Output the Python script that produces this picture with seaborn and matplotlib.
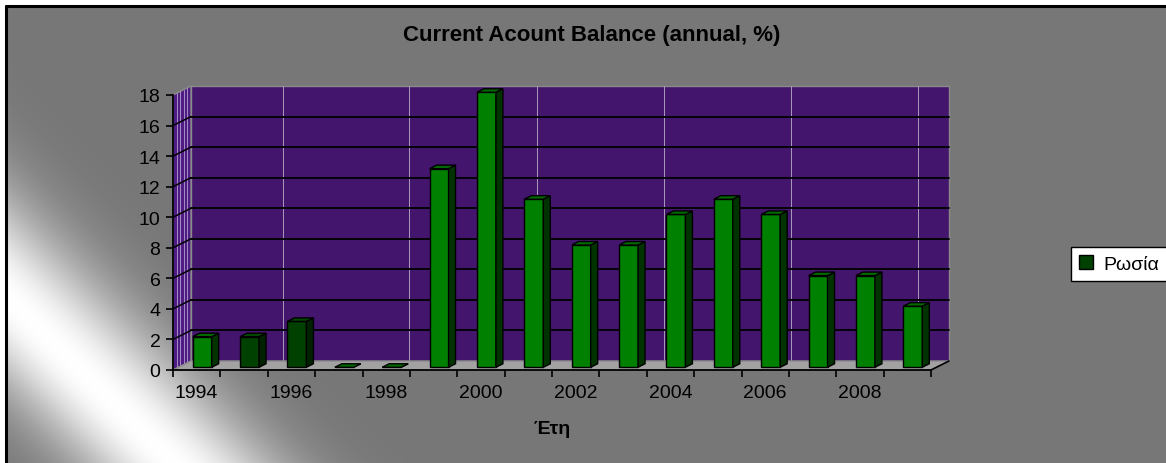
import numpy as np
import pandas as pd
import seaborn as sns
import matplotlib.pyplot as plt
from matplotlib.patches import Polygon, Patch

# data
years = ['1994', '1995', '1996', '1997', '1998', '1999', '2000', '2001',
         '2002', '2003', '2004', '2005', '2006', '2007', '2008', '2009']
balance = [2, 2, 3, 0, 0, 13, 18, 11, 8, 8, 10, 11, 10, 6, 6, 4]
dark_years = ['1995', '1996']
series_name = 'Ρωσία'
title = 'Current Acount Balance (annual, %)'
x_title = 'Έτη'

df = pd.DataFrame({'year': years, 'value': balance})

sns.set_style('white')
plt.rcParams['font.family'] = ['Liberation Sans', 'DejaVu Sans']
plt.rcParams['text.color'] = 'black'
plt.rcParams['axes.labelcolor'] = 'black'
plt.rcParams['xtick.color'] = 'black'
plt.rcParams['ytick.color'] = 'black'

W, H = 1166, 464
fig = plt.figure(figsize=(W / 100, H / 100), dpi=100, facecolor='white')

# background with diagonal light streak
bg = fig.add_axes([6 / W, 0, 1 - 6 / W, 1 - 7 / H])
bg.set_axis_off()
hh, ww = H - 7, W - 6
yy, xx = np.mgrid[0:hh, 0:ww]
s = xx + (hh - yy)
d = s - 167.0
sig = np.where(d > 0, 105.0, 95.0)
val = 0.467 + 0.533 * np.exp(-(d / sig) ** 2)
bg.imshow(np.dstack([val, val, val]), extent=[0, 1, 0, 1], aspect='auto', zorder=0)
bg.set_xlim(0, 1)
bg.set_ylim(0, 1)
bg.plot([0, 0], [0, 1], color='black', lw=2.2, transform=bg.transAxes, clip_on=False)
bg.plot([0, 1], [1, 1], color='black', lw=2.2, transform=bg.transAxes, clip_on=False)

# main axes (front plane)
ax = fig.add_axes([173 / W, 93 / H, 758 / W, 275 / H])
ax.set_facecolor('none')

colors = ['#004000' if y in dark_years else '#008000' for y in years]
sns.barplot(data=df, x='year', y='value', hue='year', palette=colors,
            width=0.4, legend=False, edgecolor='black', linewidth=1.0,
            saturation=1, ax=ax, zorder=3)

ax.set_xlim(-0.5, 15.5)
ax.set_ylim(0, 18)

# depth offsets in data units
cw = 758 / 16.0
uh = 275 / 18.0
DX, DY = 18 / cw, 9 / uh
BX, BY = 5.5 / cw, 2.75 / uh
bdx, bdy = 7 / cw, 3.5 / uh

purple = '#43156d'
wall_edge = '#8a8a8a'

# back wall
back = Polygon([(-0.5 + DX, DY), (15.5 + DX, DY), (15.5 + DX, 18 + DY), (-0.5 + DX, 18 + DY)],
               closed=True, facecolor=purple, edgecolor=wall_edge, lw=1.0, zorder=0.5, clip_on=False)
ax.add_patch(back)
# left wall
left = Polygon([(-0.5, 0), (-0.5 + DX, DY), (-0.5 + DX, 18 + DY), (-0.5, 18)],
               closed=True, facecolor='#4e1c82', edgecolor=wall_edge, lw=1.0, zorder=0.5, clip_on=False)
ax.add_patch(left)
for f in [0.2, 0.4, 0.6, 0.8]:
    ax.plot([-0.5 + DX * f, -0.5 + DX * f], [DY * f, 18 + DY * f], color='#e0d8f4',
            lw=0.7, alpha=0.6, zorder=0.55, clip_on=False)
# floor
floor = Polygon([(-0.5, 0), (15.5, 0), (15.5 + DX, DY), (-0.5 + DX, DY)],
                closed=True, facecolor='#a2a2a2', edgecolor=wall_edge, lw=1.0, zorder=0.7, clip_on=False)
ax.add_patch(floor)
ax.plot([15.5, 15.5 + DX], [0, DY], color='black', lw=1.2, zorder=0.8, clip_on=False)

# back wall gridlines
for v in range(2, 18, 2):
    ax.plot([-0.5 + DX, 15.5 + DX], [v + DY, v + DY], color='black', lw=1.3, zorder=0.6, clip_on=False)
    ax.plot([-0.5, -0.5 + DX], [v, v + DY], color='black', lw=1.1, zorder=0.6, clip_on=False)
for gx in [1.82, 4.48, 7.18, 9.86, 12.54, 15.22]:
    ax.plot([gx, gx], [DY, 18 + DY], color='#a89cba', lw=0.7, zorder=0.58, clip_on=False)

# bars: shift front faces into depth, add side and top faces
for p in list(ax.patches):
    if p in (back, left, floor):
        continue
    x0 = p.get_x() + BX
    w = p.get_width()
    h = p.get_height()
    p.set_x(x0)
    p.set_y(BY)
    p.set_clip_on(False)
    x1 = x0 + w
    y1 = BY + h
    idx = int(round(x0 + w / 2 - BX))
    dark = years[idx] in dark_years
    side_c = '#002200' if dark else '#003300'
    top_c = '#004800' if dark else '#006a00'
    ax.add_patch(Polygon([(x1, BY), (x1 + bdx, BY + bdy), (x1 + bdx, y1 + bdy), (x1, y1)],
                         closed=True, facecolor=side_c, edgecolor='black', lw=1.0,
                         zorder=3, clip_on=False))
    ax.add_patch(Polygon([(x0, y1), (x1, y1), (x1 + bdx, y1 + bdy), (x0 + bdx, y1 + bdy)],
                         closed=True, facecolor=top_c, edgecolor='black', lw=1.0,
                         zorder=3, clip_on=False))

# axes styling
for sp in ['top', 'right']:
    ax.spines[sp].set_visible(False)
ax.spines['left'].set_color('black')
ax.spines['bottom'].set_color('black')
ax.spines['left'].set_linewidth(1.3)
ax.spines['bottom'].set_linewidth(1.3)

ax.set_yticks(range(0, 19, 2))
ax.tick_params(axis='y', direction='out', length=5, width=1.2, color='black',
               labelsize=14, pad=4, left=True, labelcolor='black')
ax.set_xticks(range(0, 16, 2))
ax.set_xticklabels(years[::2])
ax.set_xticks(np.arange(-0.5, 15.6, 1.0), minor=True)
ax.tick_params(axis='x', which='major', length=0, labelsize=14, pad=10, labelcolor='black')
ax.tick_params(axis='x', which='minor', direction='out', length=5, width=1.2,
               color='black', bottom=True)
ax.set_ylabel('')
ax.set_xlabel(x_title, fontsize=14, fontweight='bold', color='black')
ax.xaxis.set_label_coords(0.5, -(418 - 368) / 275)

fig.text(592 / W, 1 - 35 / H, title, ha='center', va='center',
         fontsize=16, fontweight='bold', color='black')

handle = Patch(facecolor='#004000', edgecolor='black', linewidth=1.0)
fig.legend([handle], [series_name], loc='center left',
           bbox_to_anchor=(1071 / W, 1 - 265 / H), fontsize=14, frameon=True,
           fancybox=False, edgecolor='black', facecolor='white', framealpha=1,
           handlelength=0.75, handleheight=0.75, handletextpad=0.5,
           borderpad=0.4, borderaxespad=0)

fig.savefig('out.png', dpi=100, facecolor=fig.get_facecolor())
